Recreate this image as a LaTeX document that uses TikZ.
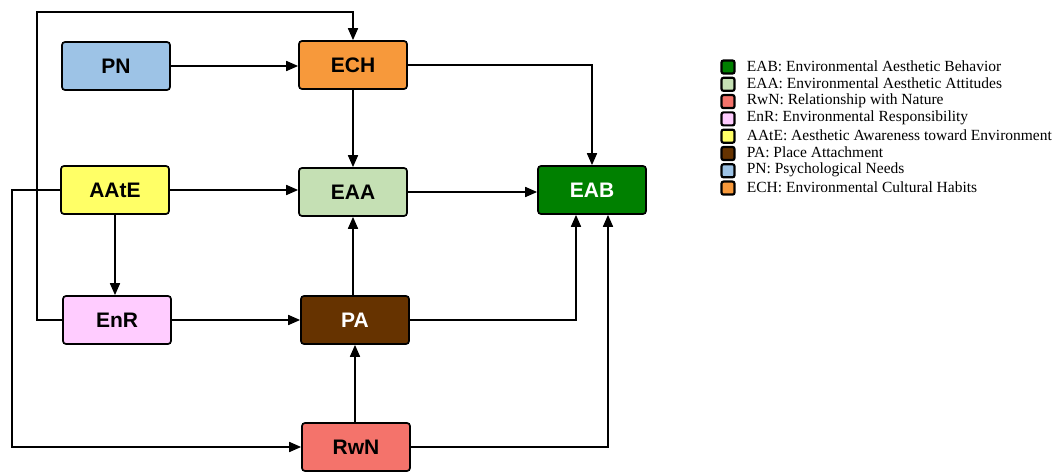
\documentclass[tikz,border=0pt]{standalone}
\usepackage{fontspec}
\setmainfont{Liberation Serif}
\setsansfont{Liberation Sans}
\usetikzlibrary{arrows.meta}

\definecolor{pnblue}{HTML}{9DC3E6}
\definecolor{echorange}{HTML}{F7993B}
\definecolor{aateyellow}{HTML}{FFFF66}
\definecolor{eaagreen}{HTML}{C5E0B4}
\definecolor{eabgreen}{HTML}{008000}
\definecolor{enrpink}{HTML}{FFCCFF}
\definecolor{pabrown}{HTML}{663300}
\definecolor{rwnred}{HTML}{F4736B}

\begin{document}
\begin{tikzpicture}
[x=1pt,y=-1pt,>={Triangle[length=12pt,width=10pt]},line width=1.7pt,
 box/.style={draw,rounded corners=3pt,minimum width=108pt,minimum height=48pt,inner sep=0pt,font=\sffamily\bfseries\fontsize{21}{21}\selectfont},
 key/.style={draw,rounded corners=2pt,minimum size=13pt,inner sep=0pt,line width=2.2pt},
 keytext/.style={anchor=west,inner sep=0pt,font=\fontsize{15.5}{15.5}\selectfont}]

\useasboundingbox (0,0) rectangle (1055,473);

% the boxes
\node[box,fill=pnblue] (PN) at (116,66) {PN};
\node[box,fill=echorange] (ECH) at (353,65) {ECH};
\node[box,fill=aateyellow] (AAtE) at (115,190) {AAtE};
\node[box,fill=eaagreen] (EAA) at (353,192) {EAA};
\node[box,fill=eabgreen,text=white] (EAB) at (592,190) {EAB};
\node[box,fill=enrpink] (EnR) at (117,320) {EnR};
\node[box,fill=pabrown,text=white] (PA) at (355,320) {PA};
\node[box,fill=rwnred] (RwN) at (356,447) {RwN};

% the corners of the long lines
\coordinate (topleft) at (37,12);
\coordinate (farleft) at (12,190);

% the arrows
\draw[->] (PN.east) -- (PN.east -| ECH.west);
\draw[->] (ECH) -- (EAA);
\draw[->] (ECH.east) -| (EAB.north);
\draw[->] (AAtE.east) -- (AAtE.east -| EAA.west);
\draw[->] (AAtE.south) -- (AAtE.south |- EnR.north);
\draw[->] (EAA.east) -- (EAA.east -| EAB.west);
\draw[->] (EnR) -- (PA);
\draw[->] (PA.north -| EAA) -- (EAA);
\draw[->] (RwN.north -| PA) -- (PA);
\draw[->] (PA.east) -| ([xshift=-16pt]EAB.south);
\draw[->] (RwN.east) -| ([xshift=16pt]EAB.south);
\draw[->] (EnR.west) -- (EnR.west -| topleft) -- (topleft) -| (ECH.north);
\draw[->] (AAtE.west) -- (farleft) |- (RwN.west);

% the legend
\node[key,fill=eabgreen] (k1) at (728,67) {};
\node[key,fill=eaagreen] (k2) at (728,84.3) {};
\node[key,fill=rwnred] (k3) at (728,101.6) {};
\node[key,fill=enrpink] (k4) at (728,118.9) {};
\node[key,fill=aateyellow] (k5) at (728,136.2) {};
\node[key,fill=pabrown] (k6) at (728,153.5) {};
\node[key,fill=pnblue] (k7) at (728,170.8) {};
\node[key,fill=echorange] (k8) at (728,188.1) {};
\node[keytext] at (746,66) {EAB: Environmental Aesthetic Behavior};
\node[keytext] at (746,83.3) {EAA: Environmental Aesthetic Attitudes};
\node[keytext] at (746,100.6) {RwN: Relationship with Nature};
\node[keytext] at (746,117.9) {EnR: Environmental Responsibility};
\node[keytext] at (746,135.2) {AAtE: Aesthetic Awareness toward Environment};
\node[keytext] at (746,152.5) {PA: Place Attachment};
\node[keytext] at (746,169.8) {PN: Psychological Needs};
\node[keytext] at (746,187.1) {ECH: Environmental Cultural Habits};
\end{tikzpicture}
\end{document}
